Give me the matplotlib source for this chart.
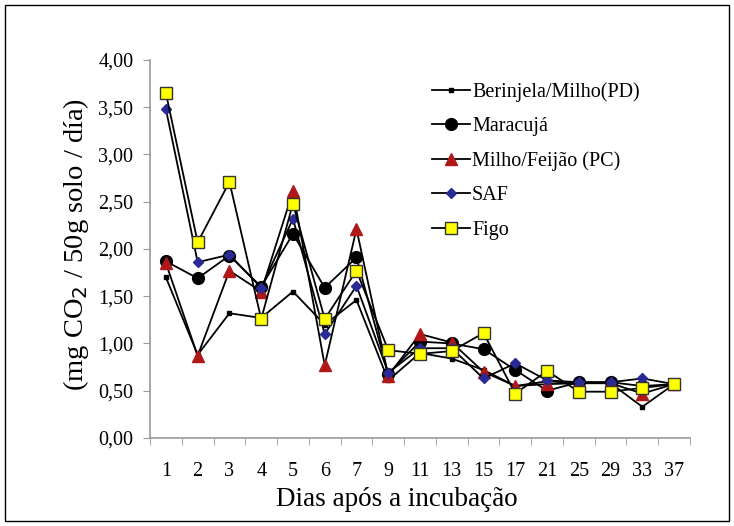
import numpy as np
import matplotlib.pyplot as plt
from matplotlib.patches import Rectangle

plt.rcParams['font.family'] = ['Liberation Serif', 'DejaVu Serif']

dias = ['1', '2', '3', '4', '5', '6', '7', '9', '11', '13', '15', '17', '21', '25', '29', '33', '37']

berinjela = [1.70, 0.88, 1.32, 1.27, 1.55, 1.20, 1.46, 0.61, 0.90, 0.84, 0.72, 0.55, 0.60, 0.58, 0.58, 0.33, 0.57]
maracuja = [1.87, 1.69, 1.93, 1.60, 2.16, 1.59, 1.91, 0.68, 1.02, 1.00, 0.94, 0.72, 0.50, 0.59, 0.59, 0.55, 0.57]
milho_feijao = [1.85, 0.87, 1.77, 1.55, 2.61, 0.77, 2.21, 0.66, 1.10, 1.01, 0.70, 0.55, 0.57, 0.58, 0.58, 0.47, 0.57]
saf = [3.48, 1.86, 1.94, 1.59, 2.32, 1.10, 1.61, 0.69, 0.95, 0.95, 0.63, 0.79, 0.61, 0.59, 0.59, 0.63, 0.57]
figo = [3.65, 2.07, 2.71, 1.26, 2.48, 1.26, 1.77, 0.93, 0.89, 0.92, 1.11, 0.47, 0.71, 0.49, 0.49, 0.53, 0.57]

yticks = [0, 0.5, 1.0, 1.5, 2.0, 2.5, 3.0, 3.5, 4.0]

fig = plt.figure(figsize=(7.34, 5.26), dpi=100)
ax = fig.add_axes([0.2044, 0.1673, 0.7356, 0.7187])

x = np.arange(len(dias))
lw = 1.3
ax.plot(x, berinjela, '-s', color='black', lw=lw, ms=3.5, mfc='black', mec='black',
        label='Berinjela/Milho(PD)')
ax.plot(x, maracuja, '-o', color='black', lw=lw, ms=8.5, mfc='black', mec='black',
        label='Maracujá')
ax.plot(x, milho_feijao, '-^', color='black', lw=lw, ms=8.5, mfc='#B01818', mec='#B01818',
        label='Milho/Feijão (PC)')
ax.plot(x, saf, '-D', color='black', lw=lw, ms=5.5, mfc='#2A2A96', mec='#2A2A96',
        label='SAF')
ax.plot(x, figo, '-s', color='black', lw=lw, ms=9, mfc='#FFFF00', mec='#333333', mew=1.0,
        label='Figo')

ax.set_xlim(-0.5, len(dias) - 0.5)
ax.set_ylim(0, 4.0)
ax.set_yticks(yticks)
ax.set_yticklabels([('%.2f' % v).replace('.', ',') for v in yticks])
ax.set_xticks(x)
ax.set_xticklabels(dias)
ax.set_xticks(np.arange(-0.5, len(dias), 1.0), minor=True)
ax.tick_params(axis='x', which='major', length=0, pad=17, labelsize=14.5)
ax.tick_params(axis='x', which='minor', length=5, color='#999999', direction='out')
ax.tick_params(axis='y', length=5, color='#999999', direction='out', labelsize=14.5, pad=7)

for s in ['top', 'right']:
    ax.spines[s].set_visible(False)
for s in ['left', 'bottom']:
    ax.spines[s].set_color('#999999')
    ax.spines[s].set_linewidth(1.2)

ax.set_xlabel('Dias após a incubação', fontsize=19.5, va='center')
ax.xaxis.set_label_coords(0.457, -0.164)
ax.set_ylabel('(mg CO$_2$ / 50g solo / día)', fontsize=20.5, va='center')
ax.yaxis.set_label_coords(-0.137, 0.511)

ax.legend(loc='upper left', bbox_to_anchor=(0.507, 0.962), frameon=False, fontsize=14.5,
          handlelength=1.9, labelspacing=0.75, handletextpad=0.1, borderaxespad=0)

fig.patches.append(Rectangle((0.007, 0.01), 0.986, 0.98, transform=fig.transFigure,
                             fill=False, edgecolor='black', lw=1.0))

fig.savefig('out.png', dpi=100)
